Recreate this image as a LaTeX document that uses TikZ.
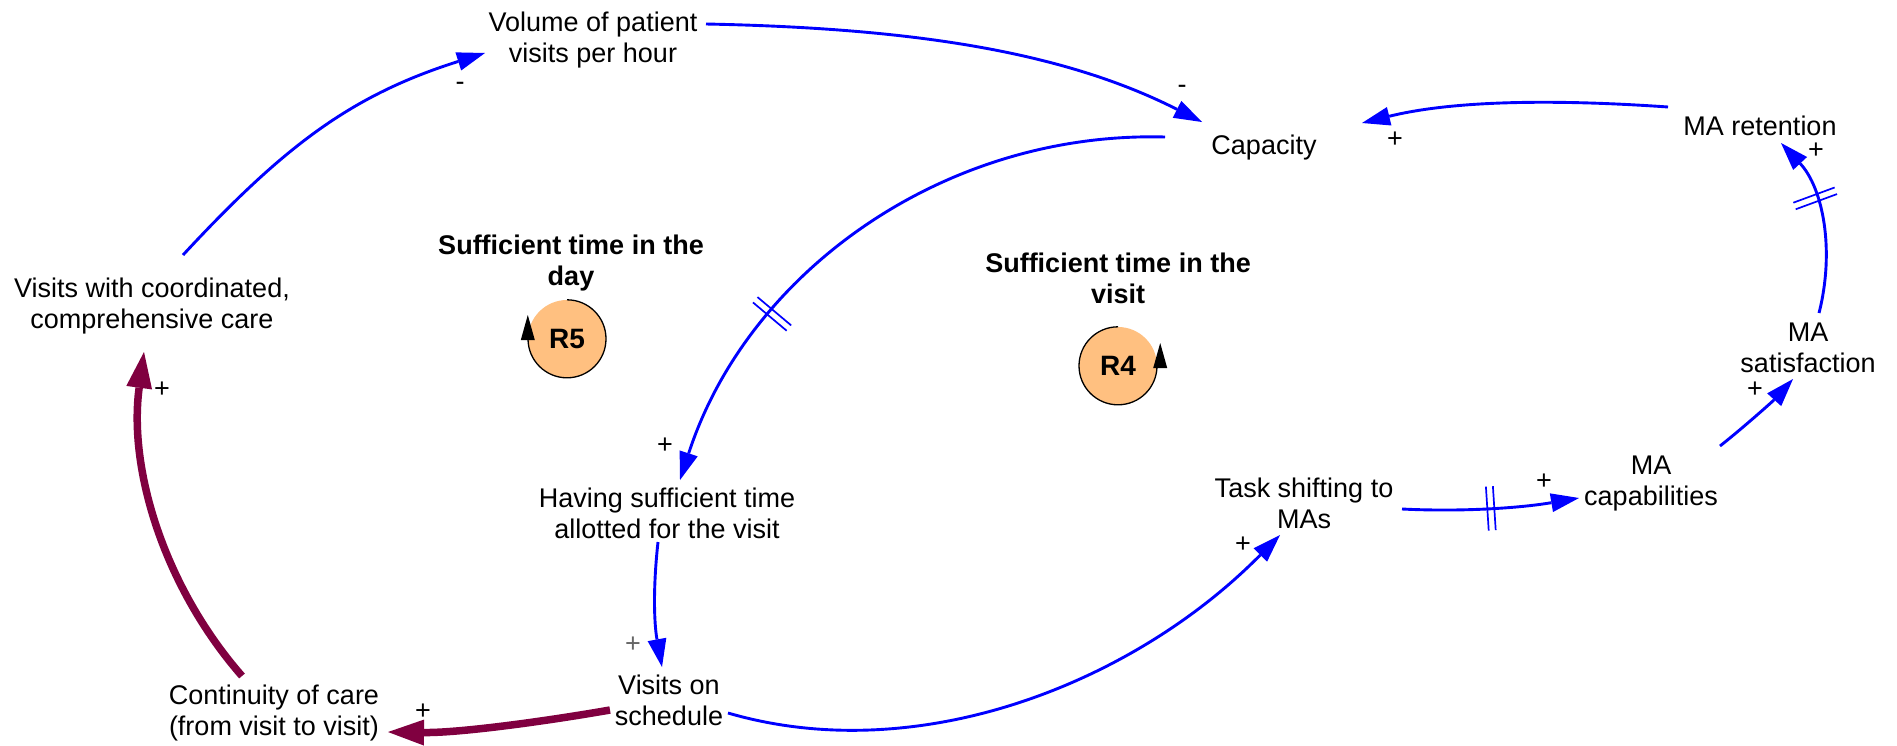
\documentclass[tikz,border=0pt]{standalone}
\usepackage{fontspec}
\setmainfont{Liberation Sans}
\usetikzlibrary{arrows.meta,calc,decorations.markings}
\definecolor{linkblue}{RGB}{0,0,255}
\definecolor{strongred}{RGB}{128,0,64}
\definecolor{loopfill}{RGB}{255,192,128}
\begin{document}
\begin{tikzpicture}[x=1pt, y=-1pt,
  var/.style={font=\fontsize{27}{31}\selectfont, align=center, inner sep=0pt},
  looptitle/.style={font=\fontsize{27}{31}\selectfont\bfseries, align=center, inner sep=0pt},
  sign/.style={font=\fontsize{27}{31}\selectfont, inner sep=0pt},
  loopmark/.style={circle, fill=loopfill, minimum size=78pt, inner sep=0pt,
    font=\fontsize{28}{31}\selectfont\bfseries},
  loopline/.style={draw=black, line width=1.3pt},
  link/.style={draw=linkblue, line width=2.9pt,
    -{Triangle[length=28pt,width=19pt,line width=0pt]}},
  strong/.style={draw=strongred, line width=7.5pt,
    -{Triangle[length=36pt,width=26pt,line width=0pt]}},
  delay/.style={postaction={decorate, decoration={markings,
    mark=at position #1 with {\draw[arrows=-, linkblue, line width=1.7pt]
      (-3.5pt,-22pt) -- (-3.5pt,22pt) (3.5pt,-22pt) -- (3.5pt,22pt);}}}}
]
\fill[white] (0,0) rectangle (1897,745);
\useasboundingbox (0,0) rectangle (1897,745);

% variables
\node[var] (vol)   at (593,40)   {Volume of patient\\visits per hour};
\node[var] (cap)   at (1264,148) {Capacity};
\node[var] (ret)   at (1760,126) {MA retention};
\node[var] (sat)   at (1808,348) {MA\\satisfaction};
\node[var] (capab) at (1651,484) {MA\\capabilities};
\node[var] (task)  at (1304,503) {Task shifting to\\MAs};
\node[var] (have)  at (667,513)  {Having sufficient time\\allotted for the visit};
\node[var] (vos)   at (669,700)  {Visits on\\schedule};
\node[var] (cont)  at (274,713)  {Continuity of care\\(from visit to visit)};
\node[var] (vwc)   at (152,306)  {Visits with coordinated,\\comprehensive care};

% loop titles and markers
\node[looptitle] (t5) at (571,263)  {Sufficient time in the\\day};
\node[looptitle] (t4) at (1118,278) {Sufficient time in the\\visit};
\node[loopmark] (r5) at (567,339)  {R5};
\node[loopmark] (r4) at (1118,366) {R4};
\draw[loopline] (r5.north) arc[start angle=90, end angle=-180, radius=39pt];
\fill ($(r5.west)+(-7pt,-1pt)$) -- ($(r5.west)+(7pt,-1pt)$) -- ($(r5.west)+(0pt,24pt)$) -- cycle;
\draw[loopline] (r4.north) arc[start angle=90, end angle=360, radius=39pt];
\fill ($(r4.east)+(-4pt,-2pt)$) -- ($(r4.east)+(10pt,-2pt)$) -- ($(r4.east)+(3pt,23pt)$) -- cycle;

% causal links
\draw[link] ($(vwc)+(31,-51)$) .. controls (285,145) and (352,95) .. ($(vol)+(-108,13)$);
\draw[link] ($(vol)+(113,-16)$) .. controls (906,28) and (1060,50) .. ($(cap)+(-62,-26)$);
\draw[link, delay=0.7] ($(cap)+(-99,-11)$) .. controls (945,131) and (748,271) .. ($(have)+(13,-33)$);
\draw[link] ($(have)+(-9,29)$) .. controls (653,587) and (654,623) .. ($(vos)+(-7,-33)$);
\draw[link] ($(vos)+(59,13)$) .. controls (920,769) and (1135,682) .. ($(task)+(-24,32)$);
\draw[link, delay=0.5] ($(task)+(98,6)$) .. controls (1462,512) and (1520,508) .. ($(capab)+(-72,14)$);
\draw[link] ($(capab)+(69,-38)$) .. controls (1744,427) and (1773,401) .. ($(sat)+(-15,31)$);
\draw[link, delay=0.64] ($(sat)+(11,-35)$) .. controls (1835,250) and (1823,188) .. ($(ret)+(21,17)$);
\draw[link] ($(ret)+(-92,-19)$) .. controls (1568,100) and (1459,99) .. ($(cap)+(98,-25)$);
\draw[strong] ($(cont)+(-32,-37)$) .. controls (165,588) and (128,470) .. ($(vwc)+(-8,46)$);
\draw[strong] ($(vos)+(-59,10)$) .. controls (541,722) and (458,733) .. ($(cont)+(114,19)$);

% polarities
\node[sign] (sA) at (460,86)   {-};
\node[sign] (sB) at (1182,89)  {-};
\node[sign] (sC) at (665,446)  {+};
\node[sign, text=black!60] (sD) at (633,645) {+};
\node[sign] (sE) at (1243,545) {+};
\node[sign] (sF) at (1544,482) {+};
\node[sign] (sG) at (1755,390) {+};
\node[sign] (sH) at (1816,151) {+};
\node[sign] (sI) at (1395,140) {+};
\node[sign] (sJ) at (162,390)  {+};
\node[sign] (sK) at (423,712)  {+};
\end{tikzpicture}
\end{document}
